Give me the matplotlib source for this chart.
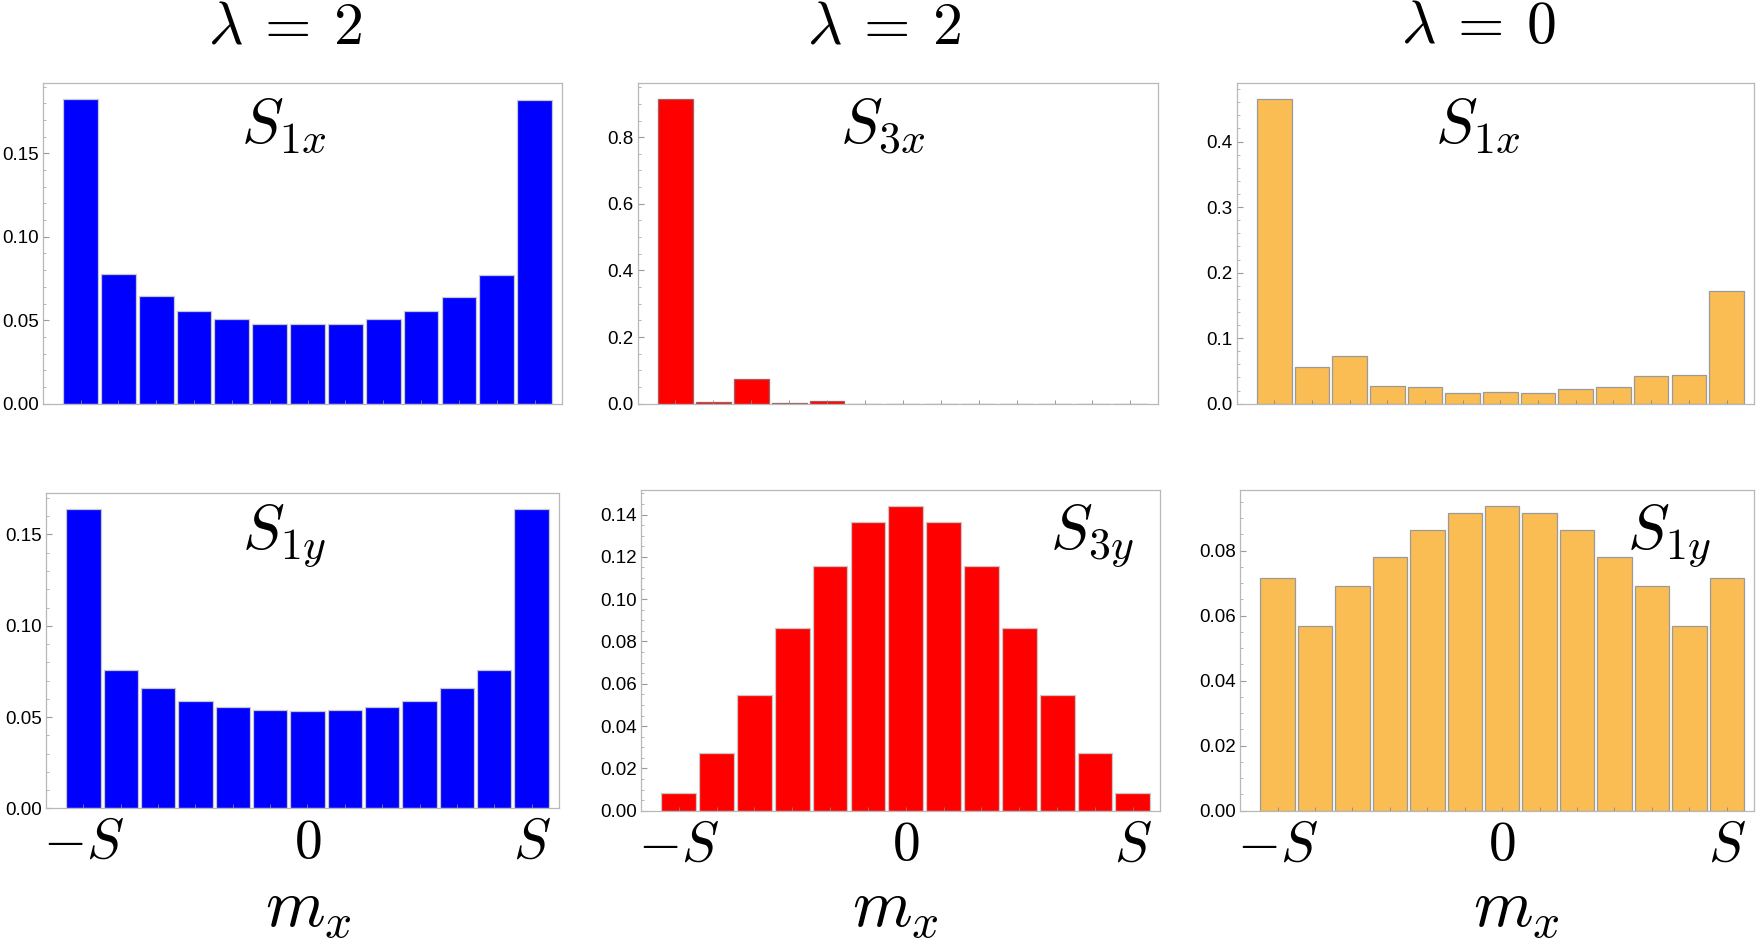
import matplotlib
matplotlib.use("Agg")
import matplotlib.pyplot as plt
from matplotlib.ticker import MultipleLocator, FormatStrFormatter, FixedLocator

plt.rcParams['font.family'] = ['Liberation Sans', 'DejaVu Sans']
plt.rcParams['mathtext.fontset'] = 'cm'

# ---- data ----
bins = list(range(13))
xtick_labels = ['$-S$', '$0$', '$S$']
col_titles = [r'$\lambda \:=\: 2$', r'$\lambda \:=\: 2$', r'$\lambda \:=\: 0$']
panel_labels = [r'$S_{1x}$', r'$S_{3x}$', r'$S_{1x}$', r'$S_{1y}$', r'$S_{3y}$', r'$S_{1y}$']

s1x_lam2 = [0.1826, 0.0776, 0.0644, 0.0554, 0.0506, 0.0480, 0.0476, 0.0480, 0.0506, 0.0554, 0.0642, 0.0770, 0.1820]
s3x_lam2 = [0.915, 0.004, 0.075, 0.001, 0.007, 0.0005, 0.0005, 0.0004, 0.0003, 0.0003, 0.0002, 0.0002, 0.0002]
s1x_lam0 = [0.4647, 0.0554, 0.0732, 0.0270, 0.0259, 0.0163, 0.0178, 0.0168, 0.0229, 0.0259, 0.0427, 0.0442, 0.1720]
s1y_lam2 = [0.1642, 0.0757, 0.0657, 0.0588, 0.0555, 0.0538, 0.0533, 0.0538, 0.0555, 0.0588, 0.0657, 0.0757, 0.1642]
s3y_lam2 = [0.0082, 0.0271, 0.0545, 0.0865, 0.1159, 0.1367, 0.1441, 0.1367, 0.1159, 0.0865, 0.0545, 0.0271, 0.0082]
s1y_lam0 = [0.0716, 0.0569, 0.0692, 0.0780, 0.0863, 0.0916, 0.0936, 0.0916, 0.0863, 0.0780, 0.0692, 0.0569, 0.0716]

W, H = 1763, 944
fig = plt.figure(figsize=(W / 100, H / 100), dpi=100)

def px_axes(l, t, r, b):
    return fig.add_axes([l / W, 1 - b / H, (r - l) / W, (b - t) / H])

panels = [
    dict(data=s1x_lam2, box=(42.7, 83.2, 562.2, 403.7), ymax=0.192, major=0.05, minor=0.01, fmt='%.2f',
         color='#0000ff', edge='#c8c8c8', lab=(284, 126), bottom=False),
    dict(data=s3x_lam2, box=(637.5, 83.2, 1158, 403.7), ymax=0.962, major=0.2, minor=0.05, fmt='%.1f',
         color='#ff0000', edge='#a06060', lab=(883, 126), bottom=False),
    dict(data=s1x_lam0, box=(1236.8, 83.2, 1754, 403.7), ymax=0.489, major=0.1, minor=0.02, fmt='%.1f',
         color='#f9bd53', edge='#9a9a9a', lab=(1478, 126), bottom=False),
    dict(data=s1y_lam2, box=(46.1, 492.5, 558.8, 808.4), ymax=0.173, major=0.05, minor=0.01, fmt='%.2f',
         color='#0000ff', edge='#c8c8c8', lab=(284, 536), bottom=True, mx=308),
    dict(data=s3y_lam2, box=(640.9, 490.2, 1160.4, 810.7), ymax=0.1515, major=0.02, minor=0.005, fmt='%.2f',
         color='#ff0000', edge='#c8c8c8', lab=(1092, 536), bottom=True, mx=895),
    dict(data=s1y_lam0, box=(1240.2, 490.2, 1754.1, 810.7), ymax=0.0986, major=0.02, minor=0.005, fmt='%.2f',
         color='#f9bd53', edge='#9a9a9a', lab=(1669, 536), bottom=True, mx=1516),
]

for i, p in enumerate(panels):
    ax = px_axes(*p['box'])
    ax.bar(bins, p['data'], width=0.92, color=p['color'], edgecolor=p['edge'], linewidth=0.9)
    ax.set_xlim(-1.0, 12.73)
    ax.set_ylim(0, p['ymax'])
    for s in ax.spines.values():
        s.set_color('#b8b8b8')
        s.set_linewidth(0.9)
    ax.yaxis.set_major_locator(MultipleLocator(p['major']))
    ax.yaxis.set_minor_locator(MultipleLocator(p['minor']))
    ax.yaxis.set_major_formatter(FormatStrFormatter(p['fmt']))
    ax.tick_params(axis='y', which='major', direction='in', length=4, width=0.8,
                   color='#999999', labelsize=13.5, pad=3)
    ax.tick_params(axis='y', which='minor', direction='in', length=2.5, width=0.6, color='#aaaaaa')
    if p['bottom']:
        ax.xaxis.set_major_locator(FixedLocator([bins[0], bins[6], bins[12]]))
        ax.set_xticklabels(xtick_labels)
        ax.xaxis.set_minor_locator(FixedLocator(bins))
        ax.tick_params(axis='x', which='major', direction='in', length=3, width=0.6,
                       color='#888888', labelsize=40, pad=7)
        ax.tick_params(axis='x', which='minor', direction='in', length=3, width=0.6, color='#888888')
        fig.text(p['mx'] / W, 1 - 909 / H, r'$m_x$', fontsize=49, ha='center', va='center')
    else:
        ax.set_xticks(bins)
        ax.set_xticklabels([])
        ax.tick_params(axis='x', which='major', direction='in', length=3, width=0.6, color='#888888')
    fig.text(p['lab'][0] / W, 1 - p['lab'][1] / H, panel_labels[i], fontsize=45,
             ha='center', va='center')

title_x = [285, 884, 1478]
for x, t in zip(title_x, col_titles):
    fig.text(x / W, 1 - 28 / H, t, fontsize=43, ha='center', va='center')

fig.savefig('out.png', dpi=100)
